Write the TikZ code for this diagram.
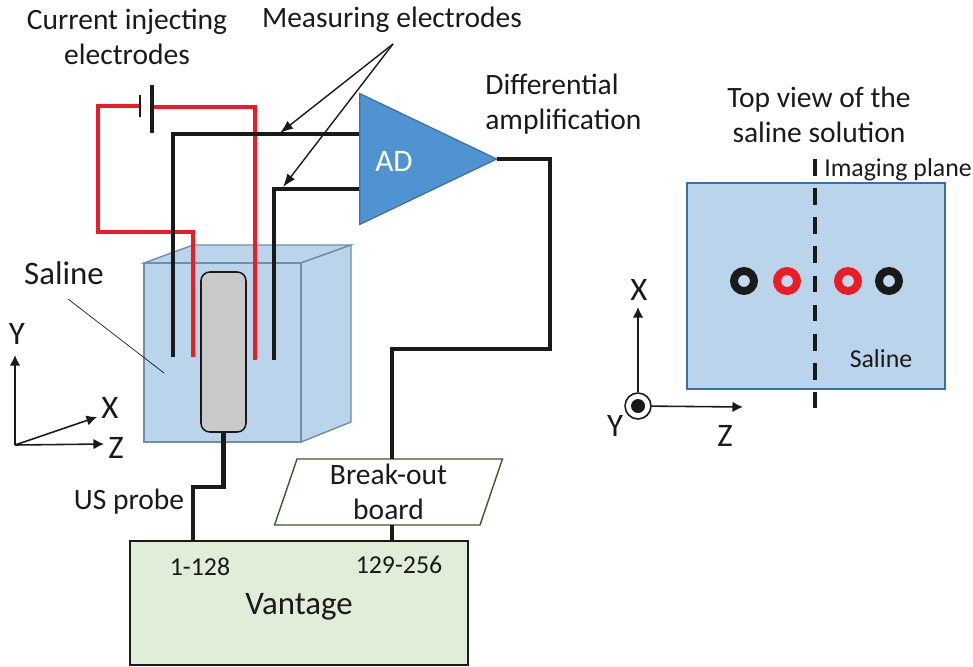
\documentclass[tikz,border=0pt]{standalone}
\usepackage{xcolor}
\usepackage{fontspec}
\setmainfont{Carlito}
\usetikzlibrary{shapes.geometric,arrows.meta}
\definecolor{salineblue}{HTML}{B9D4EB}
\definecolor{salineedge}{HTML}{6F8FA8}
\definecolor{ampblue}{HTML}{4F94D0}
\definecolor{ampedge}{HTML}{3C6F9E}
\definecolor{vantagegreen}{HTML}{DFEDD9}
\definecolor{boardgreen}{HTML}{3A5A2A}
\definecolor{wirered}{HTML}{ED1C24}
\definecolor{wireblack}{HTML}{1A1A1A}
\definecolor{probegray}{HTML}{C9C9C9}

\begin{document}
\begin{tikzpicture}[x=0.02cm,y=-0.02cm,
            lab/.style={text=wireblack, inner sep=0pt, font=\fontsize{16.8}{19.8}\selectfont, align=center},
            biglab/.style={text=wireblack, inner sep=0pt, font=\fontsize{18.7}{22}\selectfont},
            smalllab/.style={text=wireblack, inner sep=0pt, font=\fontsize{14.7}{17}\selectfont},
            redwire/.style={draw=wirered, line width=1.8pt},
            blackwire/.style={draw=wireblack, line width=1.8pt},
            cable/.style={draw=wireblack, line width=2.8pt},
            axis/.style={draw=wireblack, line width=0.9pt, -{Latex[length=6pt,width=6pt]}},
            pointer/.style={draw=wireblack, line width=0.8pt, -{Latex[length=7.5pt,width=5.5pt]}},
            ring/.style={shape=circle, inner sep=0pt, minimum size=0.4cm, line width=4.5pt, fill=salineblue!85!white}]
        \useasboundingbox (0,0) rectangle (973,666);

        \node[lab] (currentlab) at (127,37) {Current injecting\\electrodes};
        \node[lab] (measurelab) at (392,20) {Measuring electrodes};
        \node[lab,align=left,anchor=west] (difflab) at (485,104.5) {Differential\\amplification};
        \node[lab] (toplab) at (819,115) {Top view of the\\saline solution};
        \node[biglab] (salinelab) at (64,273) {Saline};

        \fill[salineblue,draw=salineedge,line width=0.8pt] (144,263) -- (193,245) -- (351,245) -- (301,263) -- cycle;
        \fill[salineblue,draw=salineedge,line width=0.8pt] (301,263) -- (351,245) -- (351,422) -- (301,442) -- cycle;
        \node[fill=salineblue,draw=salineedge,line width=0.8pt,inner sep=0pt,minimum width=3.14cm,minimum height=3.58cm] (tank) at (222.5,352.5) {};

        \node[shape=isosceles triangle,isosceles triangle stretches,shape border rotate=0,minimum width=2.62cm,minimum height=2.74cm,inner sep=0pt,outer sep=0pt,fill=ampblue,draw=ampedge,line width=0.7pt] (amp) at (401,159) {};
        \node[text=white,inner sep=0pt,font=\fontsize{17.8}{21}\selectfont] (adlab) at (394,161) {AD};

        \coordinate (plateshort) at (140,106);
        \coordinate (platelong) at (152,107);
        \coordinate (leadl) at (193,357);
        \coordinate (leadr) at (255,360);
        \draw[redwire] (plateshort) -- (98,106) -- (98,232) -- (193,232) -- (leadl);
        \draw[redwire] (platelong) -- (255,107) -- (leadr);
        \draw[draw=wireblack,line width=1.7pt] (140,95) -- (plateshort) -- (140,117);
        \draw[draw=wireblack,line width=1.9pt] (152,85) -- (platelong) -- (152,133);

        \coordinate (ampinA) at (359,134);
        \coordinate (ampinB) at (359,189);
        \coordinate (senseA) at (173,357);
        \coordinate (senseB) at (274,360);
        \draw[blackwire] (ampinA) -- (173,134) -- (senseA);
        \draw[blackwire] (ampinB) -- (274,189) -- (senseB);

        \coordinate (measurefrom) at (393,44);
        \coordinate (measureA) at (280,133);
        \coordinate (measureB) at (283,187);
        \draw[pointer] (measurefrom) -- (measureA);
        \draw[pointer] (measurefrom) -- (measureB);

        \node[fill=probegray,draw=wireblack,line width=0.9pt,rounded corners=5pt,inner sep=0pt,minimum width=0.9cm,minimum height=3.2cm] (probe) at (223.5,352) {};

        \coordinate (salinefrom) at (68,299);
        \coordinate (salineto) at (164,373);
        \draw[draw=wireblack,line width=0.4pt] (salinefrom) -- (salineto);

        \node[fill=vantagegreen,draw=wireblack,line width=1pt,inner sep=0pt,minimum width=6.76cm,minimum height=2.48cm] (vantage) at (299,603) {};
        \node[biglab] (vantagelab) at (299,607) {Vantage};
        \node[smalllab] (chanA) at (200,567) {1-128};
        \node[smalllab] (chanB) at (399,565) {129-256};

        \node[lab,shape=trapezium,trapezium left angle=75.5,trapezium right angle=104.5,trapezium stretches,fill=white,draw=boardgreen,line width=0.8pt,inner sep=0pt,minimum width=4.58cm,minimum height=1.32cm] (board) at (388.5,492) {Break-out\\board};

        \draw[cable] (amp.apex) -- (550,159) -- (550,349) -- (392,349) -- (392,459);
        \draw[cable] (392,525) -- (392,541);
        \draw[cable] (probe.south) -- (223.5,487) -- (193,487) -- (193,541);
        \node[lab] (usprobelab) at (129,502) {US probe};

        \coordinate (sideo) at (15,445);
        \coordinate (sidey) at (15,355);
        \coordinate (sidex) at (97,417);
        \coordinate (sidez) at (104,444);
        \draw[axis] (sideo) -- (sidey);
        \draw[axis] (sideo) -- (sidex);
        \draw[axis] (sideo) -- (sidez);
        \node[biglab] (sideylab) at (17,334) {Y};
        \node[biglab] (sidexlab) at (110,408) {X};
        \node[biglab] (sidezlab) at (116,448) {Z};

        \node[fill=salineblue,draw=ampedge,line width=1pt,inner sep=0pt,minimum width=5.16cm,minimum height=4.12cm] (topview) at (816,286) {};
        \coordinate (planetop) at (815,159);
        \coordinate (planebottom) at (815,408);
        \draw[draw=wireblack,line width=2.6pt,dash pattern=on 9.4pt off 7.2pt] (planetop) -- (planebottom);
        \node[smalllab] (planelab) at (898,170) {Imaging plane};
        \node[smalllab] (topsaline) at (881,359) {Saline};

        \node[ring,draw=wireblack] (blackA) at (744,281) {};
        \node[ring,draw=wirered] (redA) at (787,281) {};
        \node[ring,draw=wirered] (redB) at (848,281) {};
        \node[ring,draw=wireblack] (blackB) at (889,281) {};

        \node[shape=circle,fill=white,draw=wireblack,line width=0.9pt,inner sep=0pt,minimum size=0.52cm] (topo) at (638,406) {};
        \node[shape=circle,fill=wireblack,inner sep=0pt,minimum size=0.28cm] (topdot) at (638,406) {};
        \coordinate (topx) at (638,307);
        \coordinate (topz) at (743,407);
        \draw[axis] (topo) -- (topx);
        \draw[axis] (topo) -- (topz);
        \node[biglab] (topxlab) at (639,290) {X};
        \node[biglab] (topylab) at (615,426) {Y};
        \node[biglab] (topzlab) at (725,436) {Z};
    \end{tikzpicture}
\end{document}
